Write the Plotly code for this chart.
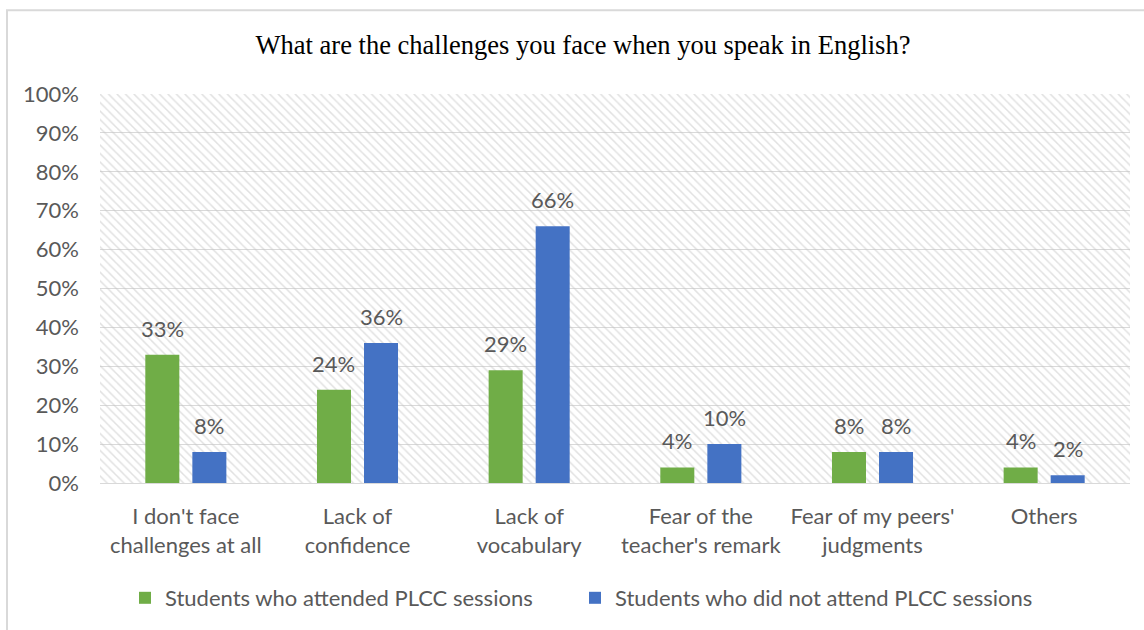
import plotly.graph_objects as go

# Survey results (percent of respondents)
categories = [
    "I don't face<br>challenges at all",
    "Lack of<br>confidence",
    "Lack of<br>vocabulary",
    "Fear of the<br>teacher's remark",
    "Fear of my peers'<br>judgments",
    "Others",
]
attended = [33, 24, 29, 4, 8, 4]
not_attended = [8, 36, 66, 10, 8, 2]
series_names = [
    "Students who attended PLCC sessions",
    "Students who did not attend PLCC sessions",
]
series_colors = ["#70AD47", "#4472C4"]

TEXT_GREY = "#595959"
GRID = "#d9d9d9"
SANS = "Lato, 'Open Sans', sans-serif"
FS = 22

W, H = 1144, 630
L, R, T, B = 100, 14, 94, 146
plot_w = W - L - R
plot_h = H - T - B

fig = go.Figure()

# Hatched plot-area background on the base axes
fig.add_trace(go.Bar(
    x=[0.5], y=[100], width=[1],
    xaxis="x", yaxis="y",
    marker=dict(
        color="rgba(0,0,0,0)",
        line=dict(width=0),
        pattern=dict(shape="\\", size=6, solidity=0.25,
                     fgcolor="#c4c4c4", bgcolor="rgba(0,0,0,0)",
                     fillmode="overlay"),
    ),
    hoverinfo="skip", showlegend=False,
))

# The two data series on the overlaying category axes, one legend each
legend_ids = ["legend", "legend2"]
for name, vals, col, lg in zip(series_names, [attended, not_attended],
                               series_colors, legend_ids):
    fig.add_trace(go.Bar(
        x=categories, y=vals, name=name,
        xaxis="x2", yaxis="y2", legend=lg,
        marker=dict(color=col, line=dict(width=0)),
    ))

# Value labels above each bar
bargap = 0.452
cat_px = plot_w / len(categories)
half_slot = (1 - bargap) * cat_px / 4
annotations = []
for k, vals in enumerate([attended, not_attended]):
    shift = -half_slot if k == 0 else half_slot
    for c, v in zip(categories, vals):
        annotations.append(dict(
            x=c, y=v, xref="x2", yref="y2",
            text=f"{v}%", showarrow=False,
            xanchor="center", yanchor="bottom",
            xshift=shift, yshift=11,
            font=dict(family=SANS, size=FS, color=TEXT_GREY),
        ))


def legend_box(left_px):
    return dict(
        orientation="h", x=(left_px - L) / plot_w, xanchor="left",
        y=(plot_h - (598 - T)) / plot_h, yanchor="middle",
        font=dict(family=SANS, size=FS, color=TEXT_GREY),
        itemclick=False, bgcolor="rgba(0,0,0,0)",
    )


fig.update_layout(
    width=W, height=H,
    margin=dict(l=L, r=R, t=T, b=B),
    paper_bgcolor="white", plot_bgcolor="white",
    barmode="group", bargap=bargap, bargroupgap=0.277,
    title=dict(
        text="What are the challenges you face when you speak in English?",
        x=(583 - L) / plot_w, xref="paper", xanchor="center",
        y=1 - 45 / H, yanchor="middle",
        font=dict(family="'Liberation Serif', 'Times New Roman', serif",
                  size=26.5, color="#000000"),
    ),
    xaxis=dict(range=[0, 1], visible=False, fixedrange=True),
    yaxis=dict(
        range=[0, 100], dtick=10, ticksuffix="%",
        showgrid=True, gridcolor=GRID, gridwidth=1,
        zeroline=False, showline=False, ticks="",
        ticklabelstandoff=20,
        tickfont=dict(family=SANS, size=FS, color=TEXT_GREY),
    ),
    xaxis2=dict(
        overlaying="x", anchor="y2", type="category",
        showline=True, linecolor=GRID, linewidth=1,
        ticks="", showgrid=False,
        ticklabelstandoff=14,
        tickfont=dict(family=SANS, size=FS, color=TEXT_GREY),
    ),
    yaxis2=dict(overlaying="y", range=[0, 100], visible=False),
    legend=legend_box(125),
    legend2=legend_box(575),
    annotations=annotations,
    shapes=[dict(
        type="rect", xref="paper", yref="paper",
        x0=(7 - L) / plot_w, x1=(W + 10 - L) / plot_w,
        y0=(plot_h - (H + 10 - T)) / plot_h, y1=(plot_h - (10 - T)) / plot_h,
        line=dict(color="#d9d9d9", width=2), fillcolor="rgba(0,0,0,0)",
        layer="below",
    )],
)

fig.write_html("out.html")
